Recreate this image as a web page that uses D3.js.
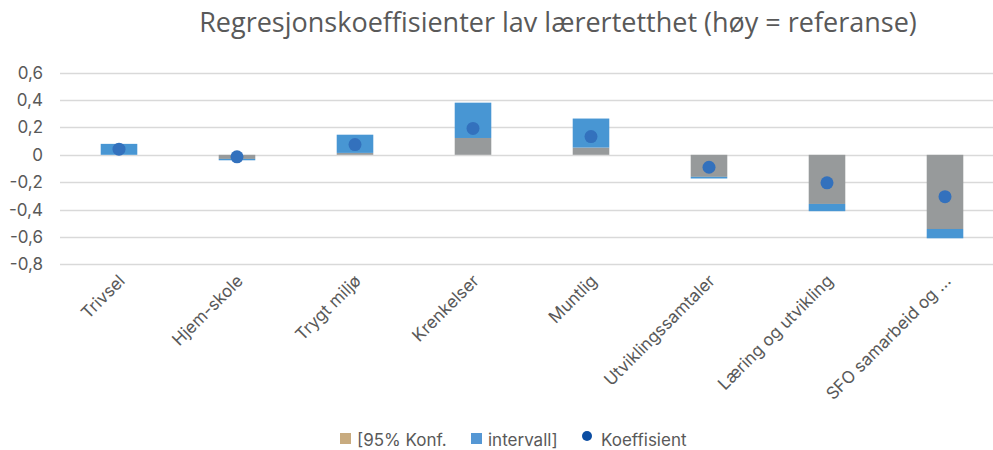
<!DOCTYPE html>
<html>
<head>
<meta charset="utf-8">
<script src="https://cdn.jsdelivr.net/npm/d3@7"></script>
<style>
  body { margin: 0; background: #fff; }
  svg { display: block; font-family: Inter, sans-serif; }
</style>
</head>
<body>
<svg width="993" height="450"></svg>
<script>
var categories = ["Trivsel", "Hjem-skole", "Trygt miljø", "Krenkelser", "Muntlig",
                  "Utviklingssamtaler", "Læring og utvikling", "SFO samarbeid og ..."];
// first stacked series (grey), second stacked series (blue), point estimate
var konf      = [0.0, -0.03, 0.014, 0.123, 0.053, -0.161, -0.359, -0.542];
var intervall = [0.08, -0.01, 0.133, 0.258, 0.212, -0.012, -0.053, -0.068];
var koeff     = [0.041, -0.015, 0.075, 0.193, 0.133, -0.091, -0.205, -0.306];
var yTicks = [0.6, 0.4, 0.2, 0, -0.2, -0.4, -0.6, -0.8];

var svg = d3.select("svg");
var textColor = "#595959";

svg.append("text")
   .attr("x", 558)
   .attr("y", 32)
   .attr("text-anchor", "middle")
   .text("Regresjonskoeffisienter lav lærertetthet (høy = referanse)")
   .style("font-family", "'Open Sans', sans-serif")
   .style("font-size", "27px")
   .attr("fill", textColor);

var x = d3.scaleBand()
          .domain(categories)
          .range([60, 1004])
          .paddingInner(0.69)
          .paddingOuter(0.345);

var y = d3.scaleLinear()
          .domain([-0.8, 0.6])
          .range([264.3, 72.7]);

// gridlines
svg.append("g")
   .selectAll("line")
   .data(yTicks)
   .enter().append("line")
   .attr("x1", 60)
   .attr("x2", 1004)
   .attr("y1", function (d) { return Math.round(y(d)) + 0.5; })
   .attr("y2", function (d) { return Math.round(y(d)) + 0.5; })
   .attr("stroke", "#d9d9d9")
   .attr("stroke-width", 1.5);

// y labels
svg.append("g")
   .selectAll("text")
   .data(yTicks)
   .enter().append("text")
   .attr("x", 43)
   .attr("y", function (d) { return y(d); })
   .attr("dy", "0.35em")
   .attr("text-anchor", "end")
   .style("font-size", "17px")
   .attr("fill", textColor)
   .text(function (d) { return d === 0 ? "0" : d3.format(".1f")(d).replace(".", ",").replace("−", "-"); });

// grey part: 0 -> konf
svg.append("g")
   .selectAll("rect")
   .data(categories)
   .enter().append("rect")
   .attr("x", function (d) { return x(d); })
   .attr("width", x.bandwidth())
   .attr("y", function (d, i) { return y(Math.max(0, konf[i])); })
   .attr("height", function (d, i) { return Math.abs(y(konf[i]) - y(0)); })
   .attr("fill", "#979a9b");

// blue part: konf -> konf + intervall
svg.append("g")
   .selectAll("rect")
   .data(categories)
   .enter().append("rect")
   .attr("x", function (d) { return x(d); })
   .attr("width", x.bandwidth())
   .attr("y", function (d, i) { return y(Math.max(konf[i], konf[i] + intervall[i])); })
   .attr("height", function (d, i) { return Math.abs(y(konf[i] + intervall[i]) - y(konf[i])); })
   .attr("fill", "#4896d3");

// coefficient dots
svg.append("g")
   .selectAll("circle")
   .data(categories)
   .enter().append("circle")
   .attr("cx", function (d) { return x(d) + x.bandwidth() / 2; })
   .attr("cy", function (d, i) { return y(koeff[i]); })
   .attr("r", 6.5)
   .attr("fill", "#3371bd");

// x labels
svg.append("g")
   .selectAll("text")
   .data(categories)
   .enter().append("text")
   .attr("transform", function (d) {
     return "translate(" + (x(d) + x.bandwidth() / 2 + 7) + ",282) rotate(-45)";
   })
   .attr("text-anchor", "end")
   .style("font-size", "17px")
   .attr("fill", textColor)
   .text(function (d) { return d; });

// legend
var legend = svg.append("g").style("font-size", "17px").attr("fill", textColor);
legend.append("rect").attr("x", 340).attr("y", 433).attr("width", 11).attr("height", 11).attr("fill", "#c8ab7f");
legend.append("text").attr("x", 357).attr("y", 446).text("[95% Konf.");
legend.append("rect").attr("x", 471).attr("y", 433).attr("width", 11).attr("height", 11).attr("fill", "#5597d4");
legend.append("text").attr("x", 488).attr("y", 446).text("intervall]");
legend.append("circle").attr("cx", 587).attr("cy", 436).attr("r", 5).attr("fill", "#0b4da2");
legend.append("text").attr("x", 601).attr("y", 446).text("Koeffisient");
</script>
</body>
</html>
